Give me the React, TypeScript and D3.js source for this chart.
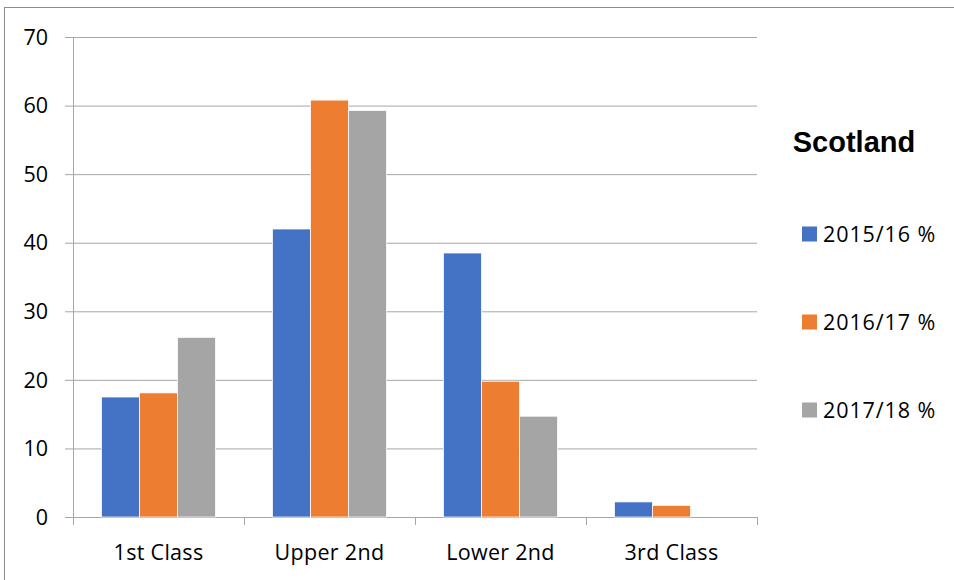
import React from "react";
import * as d3 from "d3";

// Degree classification shares, Scotland
const categories = ["1st Class", "Upper 2nd", "Lower 2nd", "3rd Class"];
const seriesNames = ["2015/16 %", "2016/17 %", "2017/18 %"];
const values2015 = [17.5, 42.0, 38.5, 2.2];
const values2016 = [18.1, 60.8, 19.8, 1.7];
const values2017 = [26.2, 59.3, 14.7, 0];
const yTicks = [0, 10, 20, 30, 40, 50, 60, 70];
const colors = ["#4472c4", "#ed7d31", "#a5a5a5"];

const W = 954;
const H = 580;
const plot = { left: 73, right: 757, top: 37, bottom: 517 };
const font = "'Open Sans', sans-serif";

export default function App() {
  const series = [values2015, values2016, values2017];
  const x = d3
    .scaleBand<string>()
    .domain(categories)
    .range([plot.left, plot.right])
    .paddingInner(0)
    .paddingOuter(0);
  const inner = d3
    .scaleBand<number>()
    .domain(d3.range(series.length))
    .range([0, x.bandwidth()])
    .paddingInner(0)
    .paddingOuter(0.75);
  const y = d3.scaleLinear().domain([0, 70]).range([plot.bottom, plot.top]);
  const edges = [...categories.map((c) => x(c)!), plot.right];

  return (
    <svg
      width={W}
      height={H}
      style={{ position: "absolute", left: 0, top: 0, background: "#fff" }}
    >
      <rect x={4.5} y={7.5} width={W + 10} height={H + 10} fill="none" stroke="#8c8c8c" strokeWidth={1} />
      {yTicks.map((t) => (
        <g key={t}>
          <line
            x1={plot.left - 8}
            x2={plot.right}
            y1={y(t) + 0.5}
            y2={y(t) + 0.5}
            stroke="#a6a6a6"
            strokeWidth={1}
          />
          <text
            x={48}
            y={y(t)}
            dy="0.36em"
            textAnchor="end"
            fontFamily={font}
            fontSize={21.5}
            fill="#000"
          >
            {t}
          </text>
        </g>
      ))}
      <line x1={plot.left + 0.5} x2={plot.left + 0.5} y1={plot.top} y2={plot.bottom + 8} stroke="#a6a6a6" />
      {edges.map((e, i) => (
        <line key={i} x1={e + 0.5} x2={e + 0.5} y1={plot.bottom} y2={plot.bottom + 8} stroke="#a6a6a6" />
      ))}
      {series.map((vals, si) =>
        vals.map((v, ci) =>
          v > 0 ? (
            <rect
              key={`${si}-${ci}`}
              x={x(categories[ci])! + inner(si)!}
              y={y(v)}
              width={inner.bandwidth()}
              height={y(0) - y(v)}
              fill={colors[si]}
              stroke="#fff"
              strokeWidth={0.75}
            />
          ) : null
        )
      )}
      {categories.map((c) => (
        <text
          key={c}
          x={x(c)! + x.bandwidth() / 2}
          y={560}
          textAnchor="middle"
          fontFamily={font}
          fontSize={21.5}
          letterSpacing={0.3}
          fill="#000"
        >
          {c}
        </text>
      ))}
      <text
        x={854}
        y={152}
        textAnchor="middle"
        fontFamily="'Liberation Sans', Arial, sans-serif"
        fontWeight="bold"
        fontSize={29}
        fill="#000"
      >
        Scotland
      </text>
      {seriesNames.map((n, i) => {
        const cy = 234 + i * 88;
        return (
          <g key={n}>
            <rect x={802} y={cy - 7.5} width={15} height={15} fill={colors[i]} />
            <text
              x={823}
              y={cy}
              dy="0.36em"
              fontFamily={font}
              fontSize={21.5}
              letterSpacing={0.9}
              fill="#000"
            >
              {n}
            </text>
          </g>
        );
      })}
    </svg>
  );
}
